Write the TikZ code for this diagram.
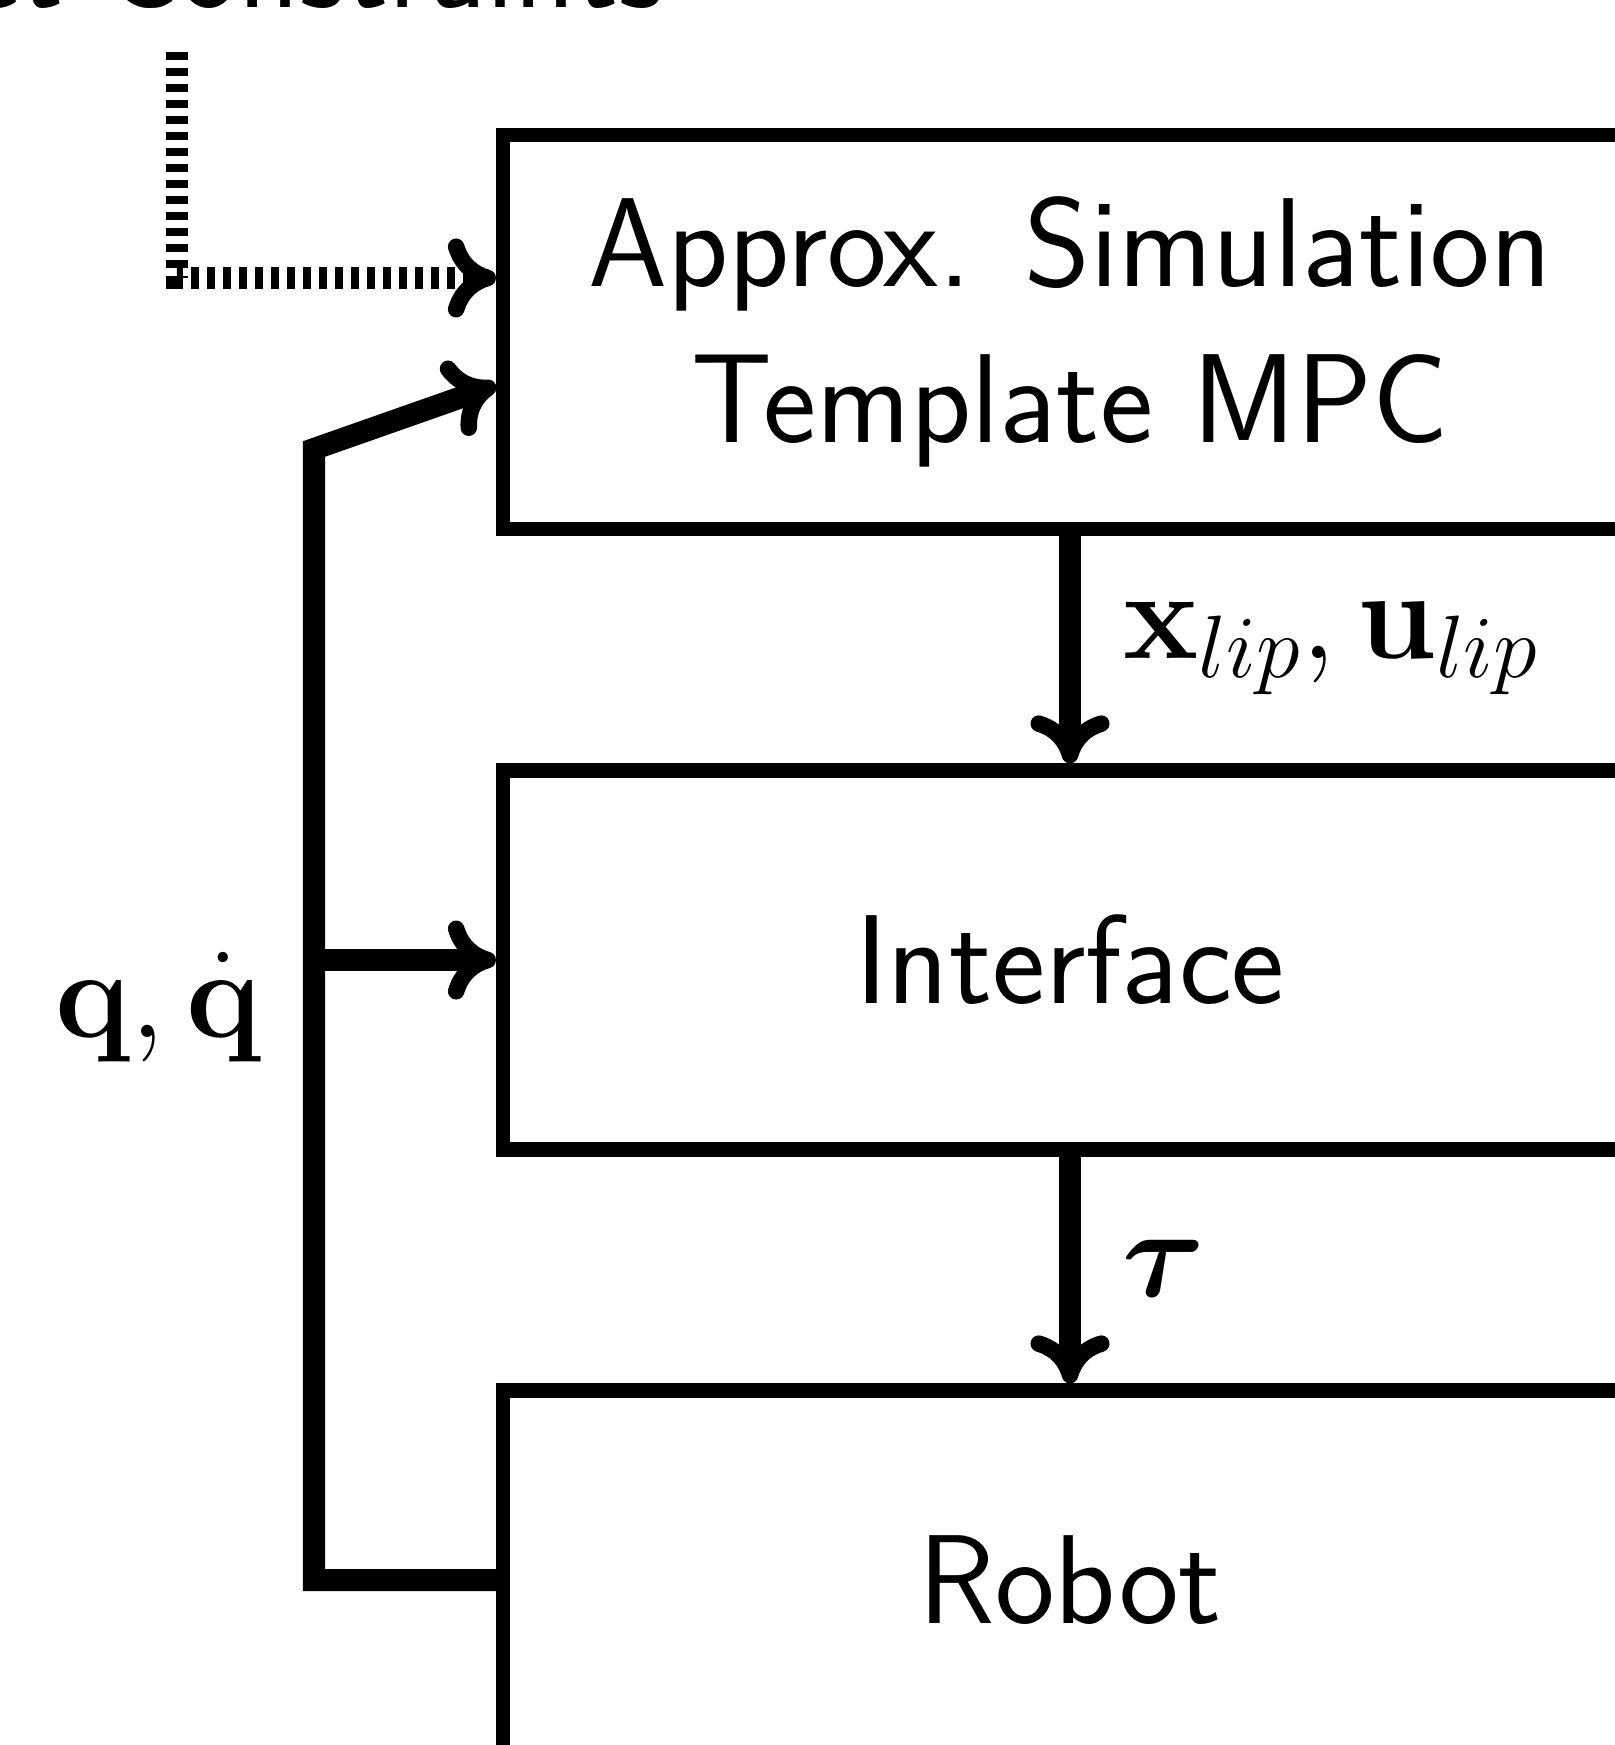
\RequirePackage{fix-cm}
\documentclass[tikz,border=0pt]{standalone}
\usepackage{amsmath}
\usetikzlibrary{arrows.meta}
\newcommand\diagfont{\fontsize{36}{44.5}\selectfont\sffamily}
\begin{document}
\begin{tikzpicture}[x=0.01cm, y=-0.01cm,
  blockbox/.style={draw, line width=0.145cm, minimum width=11.33cm,
    inner sep=0pt, align=center, font=\diagfont},
  conn/.style={line width=0.22cm, line join=miter,
    -{Computer Modern Rightarrow[length=0.48cm, width=0.79cm, line width=0.165cm]}},
  lbl/.style={inner sep=0pt, font=\diagfont},
]
\useasboundingbox (0,0) rectangle (1615,1745);
\clip (0,0) rectangle (1615,1745);

% blocks of the control loop
\node[blockbox, minimum height=3.94cm] (mpc) at (1070,332)
  {Approx. Simulation\\Template MPC};
\node[blockbox, minimum height=3.785cm] (iface) at (1070,960) {Interface};
\node[blockbox, minimum height=3.785cm] (robot) at (1070,1580) {Robot};

% constraint input from above
\node[lbl, anchor=base east] (constr) at (665,7) {Target Constraints};
\coordinate (cstart) at (177,52);
\draw[conn, dash pattern=on 0.08cm off 0.08cm]
  (cstart) |- ([yshift=0.54cm]mpc.west);

% forward path
\draw[conn] (mpc.south) -- (iface.north);
\draw[conn] (iface.south) -- (robot.north);
\node[lbl, anchor=base west] (xu) at (1123,658) {$\mathbf{x}_{lip},\mathbf{u}_{lip}$};
\node[lbl, anchor=base west] (tau) at (1122,1296) {$\boldsymbol{\tau}$};

% state feedback
\coordinate (fbcorner) at (314,449);
\draw[conn] (robot.west) -| (fbcorner) -- ([yshift=-0.53cm]mpc.west);
\draw[conn] (iface.west -| fbcorner) -- (iface.west);
\node[lbl, anchor=base east] (qlbl) at (262,1037) {$\mathbf{q},\dot{\mathbf{q}}$};
\end{tikzpicture}
\end{document}
